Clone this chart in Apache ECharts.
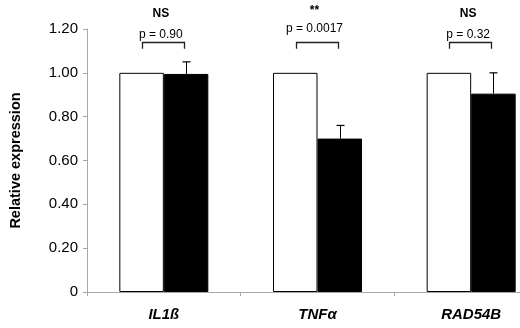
<!DOCTYPE html>
<html><head><meta charset="utf-8">
<script src="https://cdn.jsdelivr.net/npm/echarts@6/dist/echarts.min.js"></script>
<style>html,body{margin:0;padding:0;background:#fff;overflow:hidden}#c{width:548px;height:328px}</style>
</head><body><div id="c"></div>
<script>
var categories = ['IL1ß', 'TNFα', 'RAD54B'];
var controlValues = [1.0, 1.0, 1.0];
var treatedValues = [0.995, 0.70, 0.905];
var treatedErrors = [0.055, 0.06, 0.095];
var pLabels = ['p = 0.90', 'p = 0.0017', 'p = 0.32'];
var sigLabels = ['NS', '**', 'NS'];
var yTicks = [0, 0.2, 0.4, 0.6, 0.8, 1.0, 1.2];

var chart = echarts.init(document.getElementById('c'), null, {renderer: 'canvas'});
var FONT = 'Liberation Sans, Arial, sans-serif';
var BARW = 44.5;

var errData = treatedValues.map(function (v, i) { return [i, v, treatedErrors[i]]; });
var annData = categories.map(function (c, i) { return [i, 1.142, 1.11, 1.173, 1.27]; });

chart.setOption({
  animation: false,
  grid: {left: 86, top: 29, right: 0, bottom: 36},
  xAxis: {
    type: 'category', data: categories,
    axisLine: {lineStyle: {color: '#a8a8a8', width: 1}},
    axisTick: {show: true, length: 4, lineStyle: {color: '#a8a8a8'}},
    axisLabel: {color: '#000', fontFamily: FONT, fontSize: 15, fontWeight: 'bold', fontStyle: 'italic', margin: 15}
  },
  yAxis: {
    type: 'value', min: 0, max: 1.2, interval: 0.2,
    name: 'Relative expression', nameLocation: 'middle', nameGap: 64,
    nameTextStyle: {color: '#000', fontFamily: FONT, fontSize: 14.5, fontWeight: 'bold'},
    splitLine: {show: false},
    axisLine: {show: true, lineStyle: {color: '#a8a8a8', width: 1}},
    axisTick: {show: true, length: 4, lineStyle: {color: '#a8a8a8'}},
    axisLabel: {color: '#000', fontFamily: FONT, fontSize: 15, margin: 9,
      formatter: function (v) { return v === 0 ? '0' : v.toFixed(2); }}
  },
  series: [
    {type: 'bar', data: controlValues, barWidth: BARW, barGap: '0%',
      itemStyle: {color: '#fff', borderColor: '#000', borderWidth: 1}},
    {type: 'bar', data: treatedValues, barWidth: BARW, barGap: '0%',
      itemStyle: {color: '#000', borderColor: '#000', borderWidth: 1}},
    {type: 'custom', data: errData, z: 5, clip: false,
      renderItem: function (params, api) {
        var i = api.value(0);
        var top = api.coord([i, api.value(1) + api.value(2)]);
        var base = api.coord([i, api.value(1)]);
        var x = Math.round(top[0] + BARW / 2) + 0.5;
        return {type: 'group', children: [
          {type: 'line', shape: {x1: x, y1: base[1], x2: x, y2: top[1]}, style: {stroke: '#000', lineWidth: 1}},
          {type: 'line', shape: {x1: x - 4, y1: top[1], x2: x + 4, y2: top[1]}, style: {stroke: '#000', lineWidth: 1.2}}
        ]};
      }},
    {type: 'custom', data: annData, z: 6, clip: false,
      renderItem: function (params, api) {
        var i = api.value(0);
        var idx = params.dataIndex;
        var shift = sigLabels[idx] === '**' ? -6 : 0;
        var c = api.coord([i, api.value(1)]);
        var b = api.coord([i, api.value(2)]);
        var pt = api.coord([i, api.value(3)]);
        var st = api.coord([i, api.value(4)]);
        var x1 = Math.round(c[0] - 22) + 0.5, x2 = Math.round(c[0] + 20) + 0.5;
        var yt = Math.round(c[1]) + 0.5;
        return {type: 'group', children: [
          {type: 'polyline', shape: {points: [[x1, b[1]], [x1, yt], [x2, yt], [x2, b[1]]]},
            style: {stroke: '#222', lineWidth: 1.3, fill: null}},
          {type: 'text', x: c[0] - 3, y: pt[1] + shift,
            style: {text: pLabels[idx], fill: '#000', font: '12px ' + FONT, textAlign: 'center', textVerticalAlign: 'middle'}},
          {type: 'text', x: c[0] - 3, y: st[1] + shift + (sigLabels[idx] === '**' ? 3 : 0),
            style: {text: sigLabels[idx], fill: '#000', font: 'bold 12px ' + FONT, textAlign: 'center', textVerticalAlign: 'middle'}}
        ]};
      }}
  ]
});
</script></body></html>
